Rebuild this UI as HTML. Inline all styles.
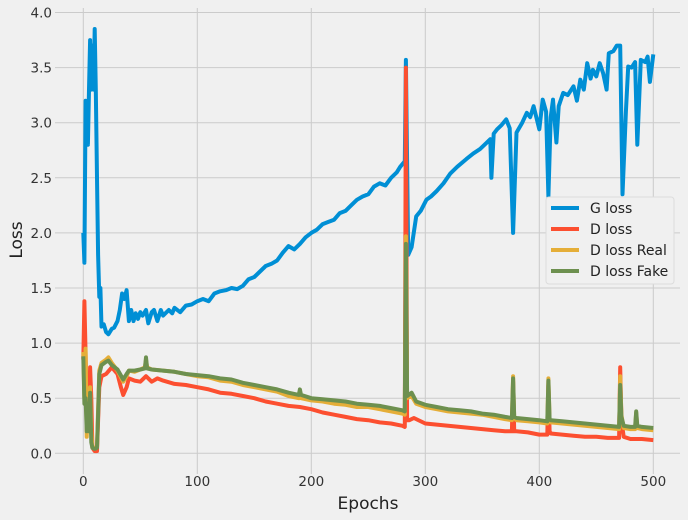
<!DOCTYPE html>
<html><head><meta charset="utf-8"><style>
html,body{margin:0;padding:0;background:#f0f0f0}
svg{display:block;font-family:"DejaVu Sans","Liberation Sans",sans-serif}
</style></head><body>
<svg id="chart" width="688" height="520" viewBox="0 0 688 520">
<rect width="688" height="520" fill="#f0f0f0"/>
<g id="grid"></g>
<g id="ticks"></g>
<g id="series"></g>
<text x="368" y="509" text-anchor="middle" font-size="17" fill="#222">Epochs</text>
<text x="22" y="240" text-anchor="middle" font-size="17" fill="#222" transform="rotate(-90 22 240)">Loss</text>
<g id="legend">
<rect x="546" y="197" width="128" height="87" rx="3" fill="#f0f0f0" stroke="#dcdcdc"/>
</g>
</svg>
<script>
const xTicks=[0,100,200,300,400,500];
const yTicks=[0.0,0.5,1.0,1.5,2.0,2.5,3.0,3.5,4.0];
const seriesNames=["G loss","D loss","D loss Real","D loss Fake"];
const gE=[0,1,2,3,4,5,6,7,8,9,10,11,12,13,14,15,16,18,20,22,25,27,30,32,34,36,38,40,42,44,46,48,50,52,55,57,60,62,65,68,70,75,78,80,85,90,95,100,105,110,115,120,125,130,135,140,145,150,155,160,165,170,175,180,185,190,195,200,205,210,215,220,225,230,235,240,245,250,255,260,265,270,275,278,282,283,285,288,292,296,301,305,310,316,322,328,336,342,348,352,357,358,360,363,367,371,374,377,380,385,389,392,395,400,403,406,408,410,412,415,417,421,425,430,433,436,439,442,445,447,450,453,456,459,461,465,468,471,473,476,478,481,484,486,489,493,495,497,500];
const gV=[2.0,1.73,3.2,3.15,2.8,3.3,3.75,3.3,3.7,3.3,3.85,3.3,2.5,1.8,1.42,1.5,1.15,1.17,1.1,1.08,1.13,1.14,1.2,1.3,1.45,1.4,1.48,1.2,1.3,1.2,1.27,1.22,1.28,1.25,1.3,1.18,1.28,1.3,1.2,1.3,1.25,1.3,1.27,1.32,1.28,1.34,1.35,1.38,1.4,1.38,1.45,1.47,1.48,1.5,1.49,1.52,1.58,1.6,1.65,1.7,1.72,1.75,1.82,1.88,1.85,1.9,1.96,2.0,2.03,2.08,2.1,2.12,2.18,2.2,2.25,2.3,2.33,2.35,2.42,2.45,2.43,2.5,2.55,2.6,2.65,3.57,1.8,1.87,2.15,2.2,2.3,2.33,2.38,2.45,2.54,2.6,2.67,2.72,2.76,2.8,2.85,2.5,2.9,2.94,2.98,3.03,2.95,2.0,2.91,3.0,3.09,3.05,3.15,2.94,3.21,3.1,2.33,3.05,3.21,2.82,3.15,3.27,3.25,3.33,3.2,3.39,3.3,3.54,3.4,3.48,3.42,3.54,3.45,3.3,3.63,3.65,3.7,3.7,2.35,3.1,3.51,3.5,3.55,2.8,3.57,3.55,3.6,3.37,3.62,3.71];
const dE=[0,1,2,3,4,5,6,7,8,10,12,13,14,16,20,25,30,33,35,38,40,45,50,55,60,65,70,80,90,100,110,120,130,140,150,160,170,180,190,200,210,220,230,240,250,260,270,280,282,283,284,286,290,300,310,320,330,340,350,360,370,376,377,378,380,390,400,407,408,409,410,420,430,440,450,460,470,471,472,474,480,490,500];
const dV=[0.85,1.38,0.9,0.4,0.2,0.3,0.78,0.5,0.05,0.02,0.02,0.3,0.6,0.7,0.72,0.78,0.72,0.6,0.53,0.6,0.68,0.66,0.65,0.7,0.65,0.68,0.66,0.63,0.62,0.6,0.58,0.55,0.54,0.52,0.5,0.47,0.45,0.43,0.42,0.4,0.37,0.35,0.33,0.31,0.3,0.28,0.27,0.25,0.24,3.5,0.3,0.3,0.32,0.27,0.26,0.25,0.24,0.23,0.22,0.21,0.2,0.2,0.65,0.2,0.2,0.19,0.17,0.17,0.62,0.2,0.18,0.17,0.16,0.15,0.15,0.14,0.14,0.78,0.3,0.15,0.13,0.13,0.12];
const rE=[0,1,2,3,4,5,6,7,8,10,12,13,14,16,20,22,25,30,35,38,40,45,50,54,55,56,60,70,80,90,100,110,120,130,140,150,160,170,180,189,190,191,200,210,220,230,240,250,260,270,280,282,283,284,288,292,300,310,320,330,340,350,360,370,376,377,378,380,390,400,407,408,409,410,420,430,440,450,460,470,471,472,474,480,484,485,486,490,500];
const rV=[0.92,0.5,0.95,0.15,0.5,0.25,0.6,0.2,0.05,0.05,0.06,0.4,0.75,0.82,0.85,0.87,0.82,0.75,0.65,0.7,0.75,0.74,0.76,0.78,0.85,0.78,0.76,0.75,0.74,0.72,0.7,0.69,0.66,0.65,0.62,0.6,0.58,0.56,0.52,0.5,0.55,0.5,0.48,0.47,0.45,0.44,0.42,0.42,0.4,0.38,0.36,0.35,1.97,0.5,0.52,0.45,0.42,0.4,0.38,0.37,0.36,0.35,0.33,0.31,0.3,0.7,0.32,0.3,0.29,0.28,0.27,0.68,0.3,0.28,0.27,0.26,0.25,0.24,0.23,0.22,0.7,0.35,0.23,0.22,0.22,0.37,0.23,0.22,0.21];
const fE=[0,1,2,3,4,5,6,7,8,10,12,13,14,16,20,22,25,30,35,38,40,45,50,54,55,56,60,70,80,90,100,110,120,130,140,150,160,170,180,189,190,191,200,210,220,230,240,250,260,270,280,282,283,284,288,292,300,310,320,330,340,350,360,370,376,377,378,380,390,400,407,408,409,410,420,430,440,450,460,470,471,472,474,480,484,485,486,490,500];
const fV=[0.88,0.45,0.5,0.2,0.45,0.2,0.55,0.1,0.05,0.04,0.05,0.35,0.72,0.8,0.83,0.84,0.8,0.76,0.67,0.72,0.75,0.75,0.76,0.77,0.87,0.77,0.76,0.75,0.74,0.72,0.71,0.7,0.68,0.67,0.64,0.62,0.6,0.58,0.55,0.53,0.58,0.53,0.5,0.49,0.48,0.47,0.45,0.44,0.43,0.41,0.39,0.38,1.9,0.52,0.55,0.47,0.44,0.42,0.4,0.39,0.38,0.36,0.35,0.33,0.32,0.68,0.33,0.32,0.31,0.3,0.29,0.66,0.31,0.3,0.29,0.28,0.27,0.26,0.25,0.24,0.62,0.33,0.25,0.24,0.24,0.38,0.25,0.24,0.23];

const NS="http://www.w3.org/2000/svg";
const X0=83.3,XS=1.14,Y0=453.3,YS=110.2;
function xs(v){return X0+v*XS;}
function ys(v){return Y0-v*YS;}
const grid=document.getElementById('grid'),ticks=document.getElementById('ticks'),series=document.getElementById('series'),legend=document.getElementById('legend');
xTicks.forEach(t=>{
  const l=document.createElementNS(NS,'line');
  l.setAttribute('x1',xs(t));l.setAttribute('x2',xs(t));l.setAttribute('y1',8);l.setAttribute('y2',474);
  l.setAttribute('stroke','#cbcbcb');l.setAttribute('stroke-width','1');
  
  
  grid.appendChild(l);
  const tx=document.createElementNS(NS,'text');
  tx.setAttribute('x',xs(t));tx.setAttribute('y',486);tx.setAttribute('text-anchor','middle');
  tx.setAttribute('font-size','13.5');tx.setAttribute('fill','#333');tx.textContent=t;
  
  
  ticks.appendChild(tx);
});
yTicks.forEach(t=>{
  const l=document.createElementNS(NS,'line');
  l.setAttribute('x1',55);l.setAttribute('x2',680);l.setAttribute('y1',ys(t));l.setAttribute('y2',ys(t));
  l.setAttribute('stroke','#cbcbcb');l.setAttribute('stroke-width','1');
  
  
  grid.appendChild(l);
  const tx=document.createElementNS(NS,'text');
  tx.setAttribute('x',52);tx.setAttribute('y',ys(t)+5);tx.setAttribute('text-anchor','end');
  tx.setAttribute('font-size','13.5');tx.setAttribute('fill','#333');tx.textContent=t.toFixed(1);
  
  
  ticks.appendChild(tx);
});
const colors=['#008fd5','#fc4f30','#e5ae38','#6d904f'];
const all=[[gE,gV],[dE,dV],[rE,rV],[fE,fV]];
const names=['g-loss-line','d-loss-line','d-loss-real-line','d-loss-fake-line'];
all.forEach((s,i)=>{
  const p=document.createElementNS(NS,'polyline');
  p.setAttribute('points',s[0].map((e,j)=>xs(e).toFixed(1)+','+ys(s[1][j]).toFixed(1)).join(' '));
  p.setAttribute('fill','none');p.setAttribute('stroke',colors[i]);p.setAttribute('stroke-width','4');
  p.setAttribute('stroke-linejoin','round');
  
  
  series.appendChild(p);
});
seriesNames.forEach((n,i)=>{
  const y=208+i*21;
  const l=document.createElementNS(NS,'line');
  l.setAttribute('x1',551);l.setAttribute('x2',579);l.setAttribute('y1',y);l.setAttribute('y2',y);
  l.setAttribute('stroke',colors[i]);l.setAttribute('stroke-width','4');
  
  
  legend.appendChild(l);
  const t=document.createElementNS(NS,'text');
  t.setAttribute('x',590);t.setAttribute('y',y+5);t.setAttribute('font-size','14');t.setAttribute('fill','#222');
  t.textContent=n;
  
  
  legend.appendChild(t);
});
</script>
</body></html>
